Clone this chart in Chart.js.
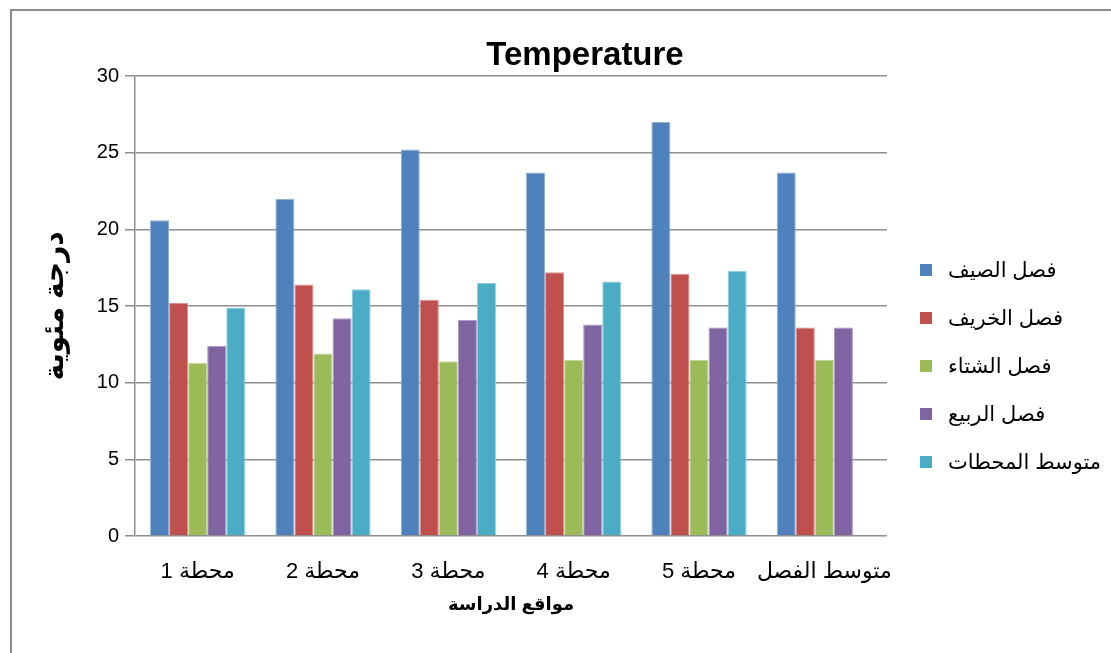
<!DOCTYPE html>
<html lang="ar">
<head>
<meta charset="utf-8">
<script src="https://cdn.jsdelivr.net/npm/chart.js@4/dist/chart.umd.min.js"></script>
<style>
  html, body { margin: 0; padding: 0; background: #fff; overflow: hidden; }
  #wrap { position: relative; width: 1111px; height: 653px; }
  #frame { position: absolute; left: 10px; top: 9px; width: 1300px; height: 800px;
           border-left: 2px solid #8a8a8a; border-top: 2px solid #8a8a8a; box-sizing: border-box; }
  canvas { position: absolute; left: 0; top: 0; }
  #legend { position: absolute; left: 920px; top: 0; font-family: "Liberation Sans", Arial, "DejaVu Sans", sans-serif;
            font-size: 21px; color: #000; }
  .item { position: absolute; left: 0; display: flex; align-items: center; white-space: nowrap; transform: translateY(-50%); }
  .box { width: 12px; height: 12px; margin-right: 16px; flex: none; }
</style>
</head>
<body>
<div id="wrap">
  <div id="frame"></div>
  <canvas id="c" width="1111" height="653"></canvas>
  <div id="legend"></div>
</div>
<script>
// Study sites (x categories)
const categories = ['محطة 1', 'محطة 2', 'محطة 3', 'محطة 4', 'محطة 5', 'متوسط الفصل'];

// Seasonal temperatures (°C) per site
const summer  = [20.6, 22.0, 25.2, 23.7, 27.0, 23.7];
const autumn  = [15.2, 16.4, 15.4, 17.2, 17.1, 13.6];
const winter  = [11.3, 11.9, 11.4, 11.5, 11.5, 11.5];
const spring  = [12.4, 14.2, 14.1, 13.8, 13.6, 13.6];
const average = [14.9, 16.1, 16.5, 16.6, 17.3, null];

const seriesNames  = ['فصل الصيف', 'فصل الخريف', 'فصل الشتاء', 'فصل الربيع', 'متوسط المحطات'];
const seriesColors = ['#4F81BD', '#C0504D', '#9BBB59', '#8064A2', '#4BACC6'];
const seriesEdges  = ['#8fb0da', '#dc8f8d', '#c3d99a', '#ad98c6', '#8fd0e0'];
const seriesData   = [summer, autumn, winter, spring, average];

const yTicks = [0, 5, 10, 15, 20, 25, 30];

const chartTitle = 'Temperature';
const xTitle = 'مواقع الدراسة';
const yTitle = 'درجة مئوية';

const FONT = '"Liberation Sans", Arial, "DejaVu Sans", sans-serif';

const titlePlugin = {
  id: 'topTitle',
  afterDraw(chart) {
    const ctx = chart.ctx;
    ctx.save();
    ctx.font = 'bold 33px ' + FONT;
    ctx.fillStyle = '#000';
    ctx.textAlign = 'center';
    ctx.textBaseline = 'middle';
    ctx.fillText(chartTitle, 585, 56);
    ctx.restore();
  }
};

new Chart(document.getElementById('c'), {
  type: 'bar',
  data: {
    labels: categories,
    datasets: seriesData.map((d, i) => ({
      label: seriesNames[i],
      data: d,
      backgroundColor: seriesColors[i],
      borderColor: seriesEdges[i],
      borderWidth: 1,
      categoryPercentage: 0.76,
      barPercentage: 1.0
    }))
  },
  options: {
    responsive: false,
    animation: false,
    layout: { padding: { left: 20, top: 76, right: 224, bottom: 0 } },
    plugins: {
      legend: { display: false },
      title: { display: false },
      tooltip: { enabled: false }
    },
    scales: {
      x: {
        grid: { display: false, drawTicks: false },
        border: { display: false },
        ticks: { color: '#000', font: { family: FONT, size: 22 }, padding: 23, maxRotation: 0, autoSkip: false },
        title: { display: true, text: xTitle, color: '#000',
                 font: { family: FONT, size: 18, weight: 'bold' }, padding: { top: 0, bottom: 37 } },
        afterFit(scale) { scale.height = 117; }
      },
      y: {
        min: 0, max: 30,
        afterBuildTicks(scale) { scale.ticks = yTicks.map(v => ({ value: v })); },
        grid: { color: '#8f8f8f', lineWidth: 1.5, tickLength: 10, drawTicks: true },
        border: { display: true, color: '#8f8f8f', width: 1.5 },
        ticks: { color: '#000', font: { family: FONT, size: 20 }, padding: 6 },
        title: { display: true, text: yTitle, color: '#000',
                 font: { family: FONT, size: 28, weight: 'bold' }, padding: { top: 18, bottom: 0 } },
        afterFit(scale) { scale.width = 115; }
      }
    }
  },
  plugins: [titlePlugin]
});

// Legend column on the right, built from the series names and colours
const legend = document.getElementById('legend');
seriesNames.forEach((name, i) => {
  const item = document.createElement('div');
  item.className = 'item';
  item.style.top = (270 + 48 * i) + 'px';
  const box = document.createElement('span');
  box.className = 'box';
  box.style.background = seriesColors[i];
  const txt = document.createElement('span');
  txt.textContent = name;
  item.appendChild(box);
  item.appendChild(txt);
  legend.appendChild(item);
});
</script>
</body>
</html>
